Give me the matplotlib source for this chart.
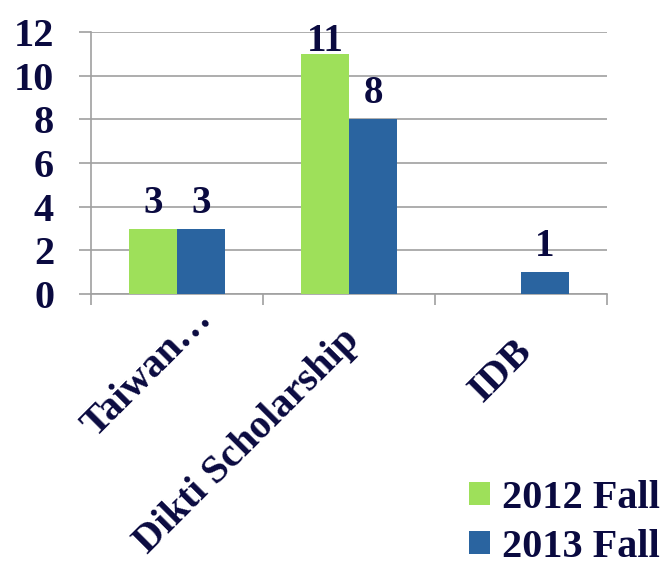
import matplotlib.pyplot as plt
import numpy as np

categories = ["Taiwan…", "Dikti Scholarship", "IDB"]
fall_2012 = [3, 11, 0]
fall_2013 = [3, 8, 1]
series_names = ["2012 Fall", "2013 Fall"]

GREEN = "#9ee05a"
BLUE = "#2a64a0"
TEXT = "#0a0a40"
GRID = "#a0a0a0"

# pixel offsets of each category label's baseline end from (category centre, axis line)
label_offsets = [(36, -26), (12, -48), (12, -58)]

plt.rcParams["font.family"] = ["Liberation Serif", "DejaVu Serif"]
plt.rcParams["font.weight"] = "bold"

fig = plt.figure(figsize=(6.67, 5.70), dpi=100)
ax = fig.add_axes([0.1364, 0.4842, 0.7736, 0.4596])

x = np.arange(len(categories))
w = 0.28
b1 = ax.bar(x - w / 2, fall_2012, w, color=GREEN, label=series_names[0], zorder=3)
b2 = ax.bar(x + w / 2, fall_2013, w, color=BLUE, label=series_names[1], zorder=3)

ax.set_xlim(-0.5, 2.5)
ax.set_ylim(0, 12)

# value labels: 16 px above the bar, but kept from running off the top
px_per_unit = ax.get_position().height * fig.get_figheight() * fig.dpi / 12
for bars, vals in ((b1, fall_2012), (b2, fall_2013)):
    for r, v in zip(bars, vals):
        if v:
            ypos = min(v + 16 / px_per_unit, 11.13)
            ax.text(r.get_x() + r.get_width() / 2, ypos, str(v), ha="center", va="baseline",
                    fontsize=28, fontweight="bold", color=TEXT)

ax.set_yticks(range(0, 13, 2))
ax.yaxis.grid(True, color=GRID, linewidth=1.2, zorder=0)
ax.tick_params(axis="y", labelsize=29, colors=GRID, labelcolor=TEXT, length=8.6, width=1.2, pad=18)

ax.set_xticks([-0.5, 0.5, 1.5, 2.5])
ax.set_xticklabels([])
ax.tick_params(axis="x", colors=GRID, length=8, width=1.2)

for i, (name, (dx, dy)) in enumerate(zip(categories, label_offsets)):
    ax.annotate(name, xy=(i, 0), xycoords=("data", "axes fraction"),
                xytext=(dx, dy), textcoords="offset pixels",
                rotation=45, rotation_mode="anchor", ha="right", va="baseline",
                fontsize=29, fontweight="bold", color=TEXT, annotation_clip=False)

for s in ("top", "right"):
    ax.spines[s].set_visible(False)
for s in ("left", "bottom"):
    ax.spines[s].set_color(GRID)
    ax.spines[s].set_linewidth(1.2)

fig.legend(handles=[b1, b2], labels=series_names, loc="lower right",
           bbox_to_anchor=(0.995, 0.0), frameon=False, fontsize=29,
           handlelength=0.52, handleheight=0.52, handletextpad=0.28, labelspacing=0.3,
           labelcolor=TEXT, borderaxespad=0.0, borderpad=0.1)

fig.savefig("out.png", dpi=100)
